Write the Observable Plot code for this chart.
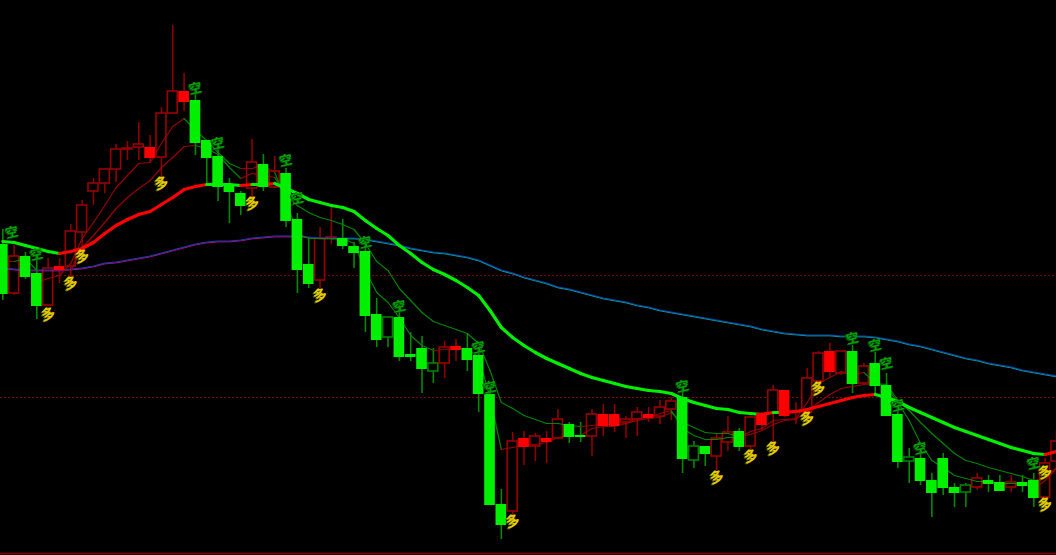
<!DOCTYPE html>
<html>
<head>
<meta charset="utf-8">
<script src="https://cdn.jsdelivr.net/npm/d3@7"></script>
<script src="https://cdn.jsdelivr.net/npm/@observablehq/plot@0.6"></script>
<style>
html,body{margin:0;padding:0;background:#000;overflow:hidden}
svg{display:block;background:#000;overflow:hidden}
</style>
</head>
<body>
<div id="chart"></div>
<script>
// u = hollow red, f = filled red, d = filled green, e = hollow green
const kind = ["d","u","d","d","u","f","u","u","u","u","u","u","u","f","u","u","f","d","d","d","d","d","u","d","u","d","d","d","u","u","d","d","d","d","e","d","d","d","e","u","f","d","d","d","d","u","f","u","f","u","d","d","u","f","f","u","u","f","u","u","d","e","d","u","u","d","u","f","u","f","u","u","u","f","u","d","u","d","d","d","e","d","d","d","d","e","u","d","d","u","d","d","u","u"];
const bodyTop = [244,256,256,273,268,266,231,205,183,169,149,148,144,147,113,91,91,100,140,156,184,193,162,164,171,173,219,264,238,237,238,246,251,314,317,317,354,348,363,347,346,348,355,394,504,441,438,436,438,419,424,435,414,414,414,419,412,414,407,401,397,446,446,438,432,431,417,413,390,390,411,378,353,351,351,351,366,363,385,414,457,458,480,458,487,485,478,480,482,482,482,480,463,441];
const bodyBottom = [293,293,276,305,305,269,266,232,191,183,169,149,147,157,157,113,101,142,157,186,191,205,188,186,187,220,269,283,280,238,245,252,315,339,337,356,356,368,371,363,349,359,393,504,524,511,446,446,441,438,436,436,436,425,425,422,419,417,416,409,458,460,453,456,442,446,446,424,413,415,412,412,381,371,373,383,383,385,415,461,461,480,492,487,492,492,487,483,490,487,485,497,497,461];
const high = [229,245,252,257,258,258,224,200,178,169,144,141,122,135,107,25,73,93,140,147,178,191,139,154,156,168,213,237,227,207,219,242,241,298,317,303,332,336,348,341,339,333,347,385,489,432,431,433,431,409,422,422,409,404,404,416,407,407,400,397,392,441,446,433,416,428,413,412,385,390,402,368,351,343,351,345,363,352,373,409,448,452,473,453,483,483,473,475,475,475,475,473,458,430];
const low = [300,295,279,319,305,283,277,247,205,193,182,160,160,163,177,113,111,155,183,201,223,215,197,191,188,227,293,288,288,244,249,268,332,347,347,361,361,393,383,378,361,371,412,504,539,515,465,461,463,438,443,442,456,436,432,438,436,422,424,420,473,468,466,470,451,451,450,430,442,417,424,413,383,378,375,393,385,395,415,468,483,485,517,495,507,507,490,492,490,492,492,507,497,470];

const trendMA = [241,242,245,248,251,253,251,248,242,233,225,219,214,211,204,197,189,186,184,184,184,185,184,184,183,188,193,199,202,205,207,211,220,228,235,245,253,262,269,274,280,287,295,310,327,337,345,352,358,363,368,373,377,380,383,386,388,390,391,393,398,402,405,408,409,412,413,414,412,412,411,409,406,403,400,397,395,394,397,401,407,412,417,422,427,431,435,439,443,447,450,453,454,451];
const longMA = [268,269,270,270,270,270,269,268,266,263,262,260,258,256,253,250,247,244,242,241,241,240,238,237,236,236,236,237,238,238,238,238,239,241,243,245,248,250,252,253,255,257,260,265,270,273,277,280,283,287,289,292,295,298,300,302,305,307,310,312,314,316,318,320,322,324,326,329,331,333,334,335,335,335,336,336,336,337,339,341,344,346,349,352,355,358,360,363,365,367,370,372,374,376];
const fastMA = [null,null,null,282,278,275,263,238,222,205,187,175,163,162,143,126,118,130,140,152,163,168,168,165,172,200,233,238,238,238,238,243,270,292,302,317,335,345,350,349,348,348,357,397,449,447,445,444,442,437,435,435,428,426,426,423,418,417,413,410,428,435,439,439,437,437,431,428,420,419,418,402,383,377,371,374,372,382,387,402,420,443,460,467,475,478,481,481,483,483,483,488,480,468];
const midMA = [261,261,258,270,null,null,270,247,235,222,208,197,188,180,167,157,146,145,148,154,167,178,173,175,177,195,205,212,217,220,224,229,243,261,270,288,300,312,321,325,329,333,343,370,402,408,415,419,423,423,425,426,425,424,424,423,420,418,417,412,422,427,432,433,433,436,434,430,424,420,419,410,402,394,388,386,384,383,384,400,410,422,433,443,453,460,463,467,470,473,476,480,477,467];

// index ranges in which each averaged line is rising (drawn red)
const trendRedRuns = [[5,18],[21,22],[23,24],[67,68],[69,77],[92,93]];
const fastRedRuns = [[3,16],[21,24],[38,41],[44,50],[51,59],[65,76],[91,93]];
const midRedRuns = [[0,1],[6,17],[21,24],[51,59],[65,77],[91,93]];

const shortX = [0.8,3,17,19,25,26,32,35,42,43,60,75,77,78,79,81,91];
const shortY = [232,254,88,143,160,198,242,306,347,387,386,338,345,363,405,448,463];
const longX = [4,6,7,14,22,28,45,63,66,68,71,72,92,92];
const longY = [314,283,256,183,203,295,521,477,456,448,418,388,504,472];
const shortLabel = "空", longLabel = "多";
const levels = [275,397];
const floorLevel = 553;

const idx = d3.range(kind.length);
const inRuns = (runs, i) => runs.some(([a, b]) => i >= a && i < b);
const hw = 0.44;
const WICK_RED = "#8c0000", WICK_GREEN = "#008a00", EDGE_RED = "#9a0000", EDGE_GREEN = "#008000";
const isRed = i => kind[i] === "u" || kind[i] === "f";
const hollow = idx.filter(i => kind[i] === "u" || kind[i] === "e");
const solid = idx.filter(i => kind[i] === "f" || kind[i] === "d");

function segments(values, runs, up, down, width) {
  const seg = idx.slice(0, -1).filter(i => values[i] != null && values[i + 1] != null);
  return Plot.link(seg, {
    x1: i => i, x2: i => i + 1,
    y1: i => values[i], y2: i => values[i + 1],
    stroke: {value: i => inRuns(runs, i) ? up : down, scale: null},
    strokeWidth: width, strokeLinecap: "round"
  });
}
function glyphs(xs, ys, label, fill, shadow, size, rotate) {
  const pts = d3.range(xs.length);
  const common = {x: j => xs[j], y: j => ys[j], text: () => label, fontSize: size, fontWeight: "bold", rotate, fontFamily: "Noto Sans CJK SC"};
  return [
    Plot.text(pts, {...common, fill: shadow, dx: -1, dy: 1}),
    Plot.text(pts, {...common, fill})
  ];
}

const chart = Plot.plot({
  width: 1056, height: 555,
  margin: 0,
  style: {background: "#000"},
  x: {axis: null, domain: [-0.206, 93.0], range: [0, 1056]},
  y: {axis: null, domain: [0, 555], range: [0, 555]},
  marks: [
    Plot.ruleY(levels, {stroke: "#800000", strokeWidth: 1, strokeDasharray: "2,2"}),
    Plot.ruleY([floorLevel], {stroke: "#700000", strokeWidth: 2}),
    Plot.ruleX(idx, {x: i => i, y1: i => high[i], y2: i => low[i],
      stroke: {value: i => isRed(i) ? WICK_RED : WICK_GREEN, scale: null}, strokeWidth: 1.6}),
    Plot.rect(hollow, {x1: i => i - hw, x2: i => i + hw, y1: i => bodyTop[i], y2: i => bodyBottom[i],
      fill: "#000", stroke: {value: i => kind[i] === "u" ? EDGE_RED : EDGE_GREEN, scale: null}, strokeWidth: 1.6}),
    Plot.line(idx, {x: i => i, y: i => longMA[i] - 0.5, stroke: "#0048b0", strokeWidth: 1.2}),
    Plot.line(idx.filter(i => i <= 29), {x: i => i, y: i => longMA[i] + 0.4, stroke: "#a0108c", strokeWidth: 1}),
    Plot.line(idx.filter(i => i >= 29), {x: i => i, y: i => longMA[i] + 0.4, stroke: "#1090a0", strokeWidth: 1}),
    segments(midMA, midRedRuns, "#980000", "#008400", 1.2),
    segments(fastMA, fastRedRuns, "#980000", "#008400", 1.2),
    segments(trendMA, trendRedRuns, "#ff0000", "#00ee00", 3.2),
    Plot.rect(solid, {x1: i => i - hw - 0.03, x2: i => i + hw + 0.03, y1: i => bodyTop[i], y2: i => bodyBottom[i] + 1,
      fill: {value: i => kind[i] === "f" ? "#ff0000" : "#00f000", scale: null}}),
    ...glyphs(shortX, shortY, shortLabel, "#00a000", "#005000", 13, -12),
    ...glyphs(longX, longY, longLabel, "#e0cc00", "#7a6c00", 14, -14)
  ]
});
document.getElementById("chart").appendChild(chart);
</script>
</body>
</html>
